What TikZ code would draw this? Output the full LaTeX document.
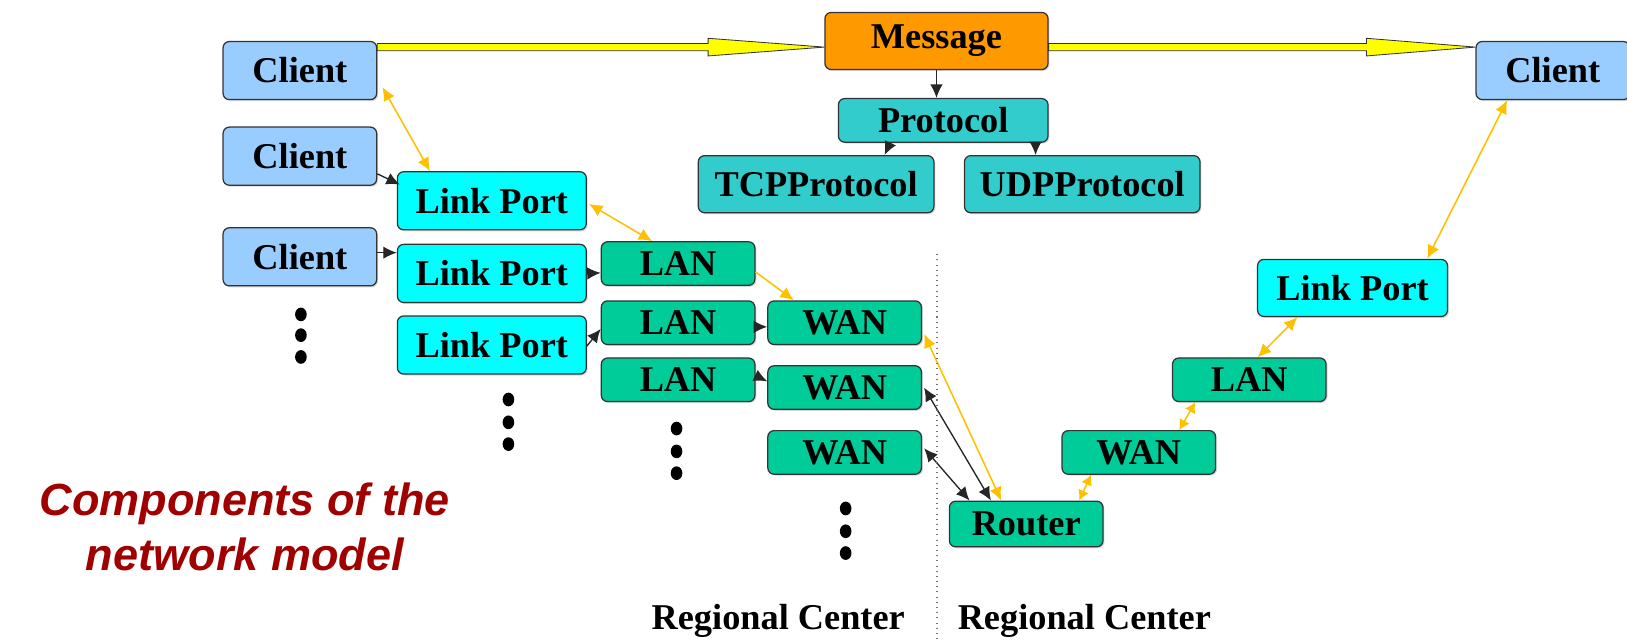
\documentclass[tikz,border=0pt]{standalone}
\usepackage{fontspec}
\setmainfont{Liberation Serif}
\newfontfamily\titlefont{Liberation Sans}
\usetikzlibrary{arrows.meta,calc,shadows}

\definecolor{clientblue}{HTML}{99CCFF}
\definecolor{msgorange}{HTML}{FF9900}
\definecolor{prototeal}{HTML}{33CCCC}
\definecolor{portcyan}{HTML}{00FFFF}
\definecolor{netgreen}{HTML}{00CC99}
\definecolor{linkgold}{HTML}{FFC000}
\definecolor{titlered}{HTML}{A00000}
\definecolor{bigyellow}{HTML}{FFFF00}

\tikzset{
  box/.style={draw=black!80, line width=0.6pt, rounded corners=3pt, inner sep=0pt,
    font=\fontsize{17.5}{20}\selectfont\bfseries, text=black,
    drop shadow={shadow xshift=0.7pt, shadow yshift=-0.7pt, fill=black!30}},
  client/.style={box, fill=clientblue, minimum width=74pt, minimum height=28pt},
  msgbox/.style={box, fill=msgorange, minimum width=107.5pt, minimum height=27.5pt},
  protobox/.style={box, fill=prototeal, minimum width=101pt, minimum height=21pt},
  implbox/.style={box, fill=prototeal, minimum width=113.5pt, minimum height=27.5pt},
  portbox/.style={box, fill=portcyan, minimum width=91pt, minimum height=28pt},
  netbox/.style={box, fill=netgreen, minimum width=74pt, minimum height=21pt},
  tip/.tip={Latex[length=6.5pt,width=6pt]},
  smalltip/.tip={Latex[length=5pt,width=5.5pt]},
  blk/.style={draw=black!85, line width=0.65pt, -tip},
  blkboth/.style={draw=black!85, line width=0.65pt, tip-tip},
  gold/.style={draw=linkgold, line width=0.75pt, -tip},
  goldboth/.style={draw=linkgold, line width=0.75pt, tip-tip},
  goldshort/.style={draw=linkgold, line width=0.75pt, smalltip-smalltip},
  fatarrow/.style={fill=bigyellow, draw=black!80, line width=0.4pt, line join=miter},
  vdot/.style={fill=black},
  regionlabel/.style={font=\fontsize{17.5}{20}\selectfont\bfseries},
}

\begin{document}
\begin{tikzpicture}[x=0.5pt, y=-0.5pt]
\useasboundingbox (0,0) rectangle (1568,616);

% --- top row: message flow ---
\node[msgbox] (msg) at (902.5,39.5) {Message};
\node[client] (c1) at (289,68) {Client};
\node[client] (cr) at (1496.5,68) {Client};

\node[protobox] (proto) at (909,116) {Protocol};
\node[implbox] (tcp) at (786.5,177.5) {TCPProtocol};
\node[implbox] (udp) at (1043,177.5) {UDPProtocol};

% --- left regional center ---
\node[client] (c2) at (289,150.5) {Client};
\node[client] (c3) at (289,247.5) {Client};

\node[portbox] (lp1) at (474,193.5) {Link Port};
\node[portbox] (lp2) at (474,263.5) {Link Port};
\node[portbox] (lp3) at (474,332.5) {Link Port};

\node[netbox] (lan1) at (653.5,254) {LAN};
\node[netbox] (lan2) at (653.5,311) {LAN};
\node[netbox] (lan3) at (653.5,366) {LAN};

\node[netbox] (wan1) at (814,311) {WAN};
\node[netbox] (wan2) at (814,373.5) {WAN};
\node[netbox] (wan3) at (814,436) {WAN};

% --- right regional center ---
\node[netbox, minimum height=22pt] (router) at (989,505) {Router};
\node[netbox] (wanr) at (1097.5,436) {WAN};
\node[netbox] (lanr) at (1204,366) {LAN};
\node[portbox, minimum width=91.5pt, minimum height=27.5pt] (lpr) at (1303.5,277.5) {Link Port};

% --- fat yellow message arrows ---
\coordinate (a1s) at ($(c1.north east)+(0,6)$);
\coordinate (a1e) at (msg.west |- a1s);
\coordinate (a2s) at (msg.east |- a1s);
\coordinate (a2e) at (cr.west |- a1s);
\draw[fatarrow] ($(a1s)+(0,-3.5)$) -- ($(a1e)+(-112,-3.5)$) -- ($(a1e)+(-112,-8.5)$) -- (a1e)
  -- ($(a1e)+(-112,8.5)$) -- ($(a1e)+(-112,3.5)$) -- ($(a1s)+(0,3.5)$) -- cycle;
\draw[fatarrow] ($(a2s)+(0,-3.5)$) -- ($(a2e)+(-105,-3.5)$) -- ($(a2e)+(-105,-8.5)$) -- (a2e)
  -- ($(a2e)+(-105,8.5)$) -- ($(a2e)+(-105,3.5)$) -- ($(a2s)+(0,3.5)$) -- cycle;

% --- protocol hierarchy ---
\draw[blk] (msg.south) -- (msg.south |- proto.north);
\draw[blk] ($(proto.south)+(-51,0)$) -- ($(tcp.north)+(66,0)$);
\draw[blk] ($(proto.south)+(89,0)$) -- ($(udp.north)+(-45,0)$);

% --- left side links ---
\draw[goldboth] ($(c1.east)+(5,16)$) -- ($(lp1.north west)+(32,0)$);
\draw[blk] ($(c2.east)+(0,17)$) -- ($(lp1.north west)+(3,13)$);
\draw[blk] ($(c3.east)+(0,-4)$) -- ($(lp2.west)+(0,-20)$);
\draw[goldboth] ($(lp1.east)+(2,3)$) -- ($(lan1.north)+(-25,0)$);
\draw[blk] (lp2.east) -- ($(lan1.west)+(0,9)$);
\draw[blk] ($(lp3.east)+(0,1)$) -- ($(lan2.west)+(0,6)$);
\draw[gold] ($(lan1.east)+(0,8)$) -- ($(wan1.north)+(-49,0)$);
\draw[blk] ($(lan2.east)+(0,4)$) -- ($(wan1.west)+(0,4)$);
\draw[blk] ($(lan3.east)+(0,-4)$) -- ($(wan2.west)+(0,-6)$);

% --- links into the router ---
\draw[goldboth] ($(wan1.east)+(2,11)$) -- ($(router.north)+(-24,0)$);
\draw[blkboth] ($(wan2.east)+(2,0)$) -- ($(router.north)+(-34,0)$);
\draw[blkboth] ($(wan3.east)+(2,-4)$) -- ($(router.north west)+(20,0)$);

% --- right side links ---
\draw[goldshort] ($(router.north)+(51,0)$) -- ($(wanr.south)+(-46,0)$);
\draw[goldshort] ($(wanr.north)+(39,0)$) -- ($(lanr.south)+(-52,0)$);
\draw[goldboth] ($(lanr.north)+(8,0)$) -- ($(lpr.south)+(-53,0)$);
\draw[goldboth] ($(lpr.north)+(72,0)$) -- ($(cr.south)+(-44,0)$);

% --- boundary between regional centers ---
\coordinate (divtop) at (903,245);
\coordinate (divbot) at (903,616);
\draw[black!55, dotted, line width=0.5pt] (divtop) -- (divbot);

% --- continuation dots ---
\foreach \x/\y in {290/303, 290/323, 290/344,
                   490/385, 490/407, 490/428,
                   652/413, 652/435, 652/456,
                   815/490, 815/512, 815/533}
  \fill[vdot] (\x,\y) ellipse [x radius=2.8pt, y radius=3.3pt];

% --- labels ---
\node[regionlabel] (rcl) at (750,598) {Regional Center};
\node[regionlabel] (rcr) at (1045,598) {Regional Center};
\node[font=\titlefont\fontsize{21.7}{26.5}\selectfont\bfseries\itshape, text=titlered, align=center] (title) at (236,508)
  {Components of the\\network model};
\end{tikzpicture}
\end{document}
